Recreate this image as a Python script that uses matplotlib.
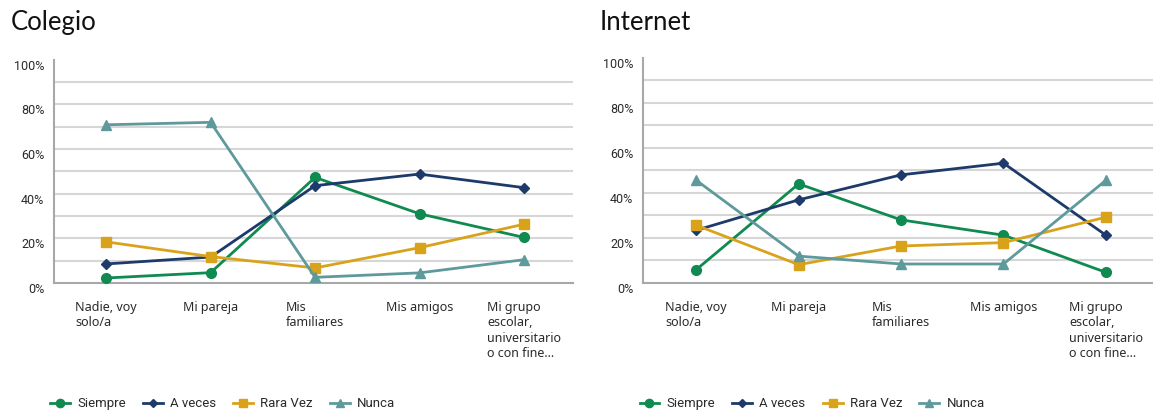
import matplotlib.pyplot as plt
from matplotlib.lines import Line2D

# categories and series (percent)
categories = [
    "Nadie, voy\nsolo/a",
    "Mi pareja",
    "Mis\nfamiliares",
    "Mis amigos",
    "Mi grupo\nescolar,\nuniversitario\no con fine...",
]
series_names = ["Siempre", "A veces", "Rara Vez", "Nunca"]

colegio_siempre = [2.2, 4.6, 47.3, 31.0, 20.4]
colegio_aveces = [8.5, 11.6, 43.6, 48.8, 42.7]
colegio_raravez = [18.4, 11.8, 6.7, 15.8, 26.3]
colegio_nunca = [70.9, 72.0, 2.5, 4.5, 10.4]

internet_siempre = [5.9, 44.0, 28.0, 21.2, 4.7]
internet_aveces = [23.4, 36.9, 48.0, 53.2, 21.2]
internet_raravez = [25.6, 8.1, 16.4, 17.9, 29.2]
internet_nunca = [45.6, 11.9, 8.4, 8.4, 45.6]

y_ticks = [0, 20, 40, 60, 80, 100]
grid_levels = [10, 20, 30, 40, 50, 60, 70, 80, 90]

COLORS = ["#0f8a50", "#1d3a6b", "#d9a21b", "#5e9a9c"]
MARKERS = ["o", "D", "s", "^"]
MSIZES = [7, 5, 7, 7.5]
GRID_COLOR = "#d6d6d6"
AXIS_COLOR = "#a8a8a8"
TEXT_COLOR = "#2a2a2a"


def draw_panel(fig, rect, title, data, title_x, xlim):
    ax = fig.add_axes(rect)
    xs = list(range(len(categories)))
    for vals, color, marker, ms in zip(data, COLORS, MARKERS, MSIZES):
        ax.plot(xs, vals, color=color, marker=marker, markersize=ms,
                linewidth=2, zorder=3, clip_on=False)
    for g in grid_levels:
        ax.axhline(g, color=GRID_COLOR, linewidth=1.5, zorder=1)
    ax.set_xlim(*xlim)
    ax.set_ylim(0, 100)
    ax.set_yticks(y_ticks)
    ax.set_yticklabels([f"{v}%" for v in y_ticks], family="Roboto",
                       fontsize=9, color=TEXT_COLOR, va="top")
    ax.tick_params(axis="y", length=0, pad=7)
    ax.set_xticks(xs)
    ax.set_xticklabels(categories, family="Noto Sans", fontsize=9,
                       color=TEXT_COLOR, va="top", ha="center",
                       multialignment="left", linespacing=1.25)
    ax.tick_params(axis="x", length=0, pad=13)
    for s in ["top", "right"]:
        ax.spines[s].set_visible(False)
    ax.spines["left"].set_color(AXIS_COLOR)
    ax.spines["bottom"].set_color(AXIS_COLOR)
    ax.spines["left"].set_linewidth(1.5)
    ax.spines["bottom"].set_linewidth(1.5)
    fig.text(title_x, 0.945, title, family="Lato", fontsize=18.5,
             color="#111111", va="center", ha="left")

    # legend sits about 121 px below the axes bottom
    h_px = rect[3] * fig.bbox.height
    handles = [
        Line2D([], [], color=c, marker=m, markersize=ms * 0.85, linewidth=2)
        for c, m, ms in zip(COLORS, MARKERS, MSIZES)
    ]
    leg = ax.legend(handles, series_names, loc="center left",
                    bbox_to_anchor=(-0.03, -121 / h_px), ncol=4, frameon=False,
                    handlelength=1.5, handletextpad=0.55, columnspacing=1.3,
                    prop={"family": "Roboto", "size": 9.5})
    for t in leg.get_texts():
        t.set_color(TEXT_COLOR)
    return ax


fig = plt.figure(figsize=(11.53, 4.13), dpi=100)

draw_panel(fig, [0.0468, 0.315, 0.4502, 0.54], "Colegio",
           [colegio_siempre, colegio_aveces, colegio_raravez, colegio_nunca],
           0.009, (-0.5, 4.47))
draw_panel(fig, [0.5577, 0.315, 0.4423, 0.545], "Internet",
           [internet_siempre, internet_aveces, internet_raravez, internet_nunca],
           0.52, (-0.52, 4.46))

fig.savefig("out.png", dpi=100, facecolor="white")
